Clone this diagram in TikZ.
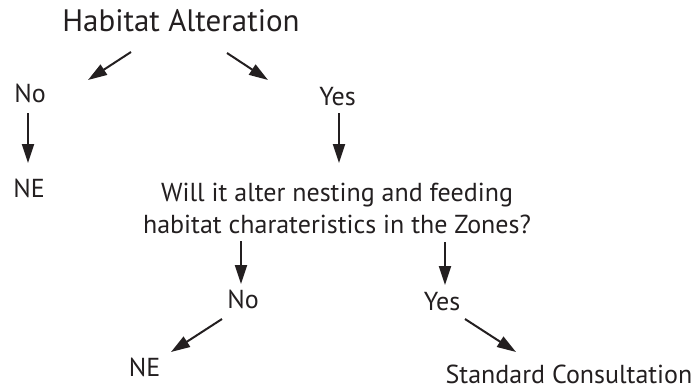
\documentclass[tikz,border=0pt]{standalone}
\usepackage{fontspec}
\setmainfont{PT Sans}
\usetikzlibrary{arrows.meta}
\definecolor{ink}{HTML}{231F20}
\begin{document}
\begin{tikzpicture}[x=1pt,y=-1pt,
  lbl/.style={anchor=base, inner sep=0pt, font=\fontsize{26}{32}\selectfont, text=ink},
  ttl/.style={anchor=base, inner sep=0pt, font=\fontsize{31}{37}\selectfont, text=ink},
  arr/.style={draw=ink, line width=2pt, -{Triangle[length=19pt,width=12pt]}}]
\useasboundingbox (0,0) rectangle (699,391);
\node[ttl] (title) at (181,31.5) {Habitat Alteration};
\node[lbl] (no1) at (30,102) {No};
\node[lbl] (yes1) at (337.5,105) {Yes};
\node[lbl] (ne1) at (29,197) {NE};
\node[lbl, align=center] (q) at (337,233) {Will it alter nesting and feeding\\habitat charateristics in the Zones?};
\node[lbl] (no2) at (243,308) {No};
\node[lbl] (yes2) at (442,310) {Yes};
\node[lbl] (ne2) at (144.5,376) {NE};
\node[lbl] (sc) at (569,383) {Standard Consultation};
% connector end points
\coordinate (t1s) at (131,52); \coordinate (t1e) at (88,80);
\coordinate (t2s) at (227,53); \coordinate (t2e) at (268,80);
\coordinate (n1s) at (28,113); \coordinate (n1e) at (28,163);
\coordinate (y1s) at (339,113); \coordinate (y1e) at (339,163);
\coordinate (qns) at (241,241); \coordinate (qne) at (241,284);
\coordinate (qys) at (445,242); \coordinate (qye) at (445,285);
\coordinate (n2s) at (222,319); \coordinate (n2e) at (171,352);
\coordinate (y2s) at (465,319); \coordinate (y2e) at (516,352);
\draw[arr] (t1s) -- (t1e);
\draw[arr] (t2s) -- (t2e);
\draw[arr] (n1s) -- (n1e);
\draw[arr] (y1s) -- (y1e);
\draw[arr] (qns) -- (qne);
\draw[arr] (qys) -- (qye);
\draw[arr] (n2s) -- (n2e);
\draw[arr] (y2s) -- (y2e);
\end{tikzpicture}
\end{document}
